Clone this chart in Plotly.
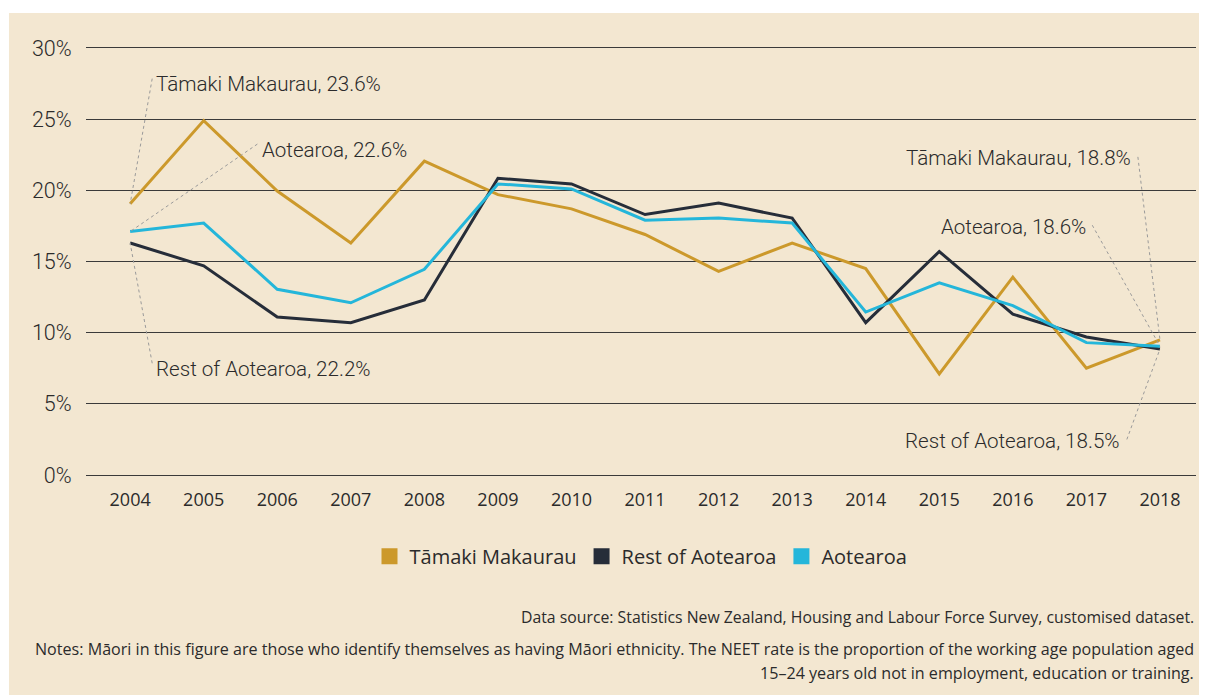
import plotly.graph_objects as go

years = list(range(2004, 2019))
tamaki = [19.05, 24.9, 19.95, 16.3, 22.05, 19.7, 18.7, 16.9, 14.3, 16.3, 14.5, 7.1, 13.9, 7.5, 9.5]
rest = [16.3, 14.7, 11.1, 10.7, 12.3, 20.85, 20.45, 18.3, 19.1, 18.05, 10.7, 15.7, 11.3, 9.7, 8.85]
aotearoa = [17.1, 17.7, 13.05, 12.1, 14.45, 20.45, 20.1, 17.9, 18.05, 17.7, 11.45, 13.5, 11.9, 9.3, 9.05]
y_ticks = [0, 5, 10, 15, 20, 25, 30]
y_tick_labels = ["0%", "5%", "10%", "15%", "20%", "25%", "30%"]

series = [
    ("Tāmaki Makaurau", tamaki, "#cc992b"),
    ("Rest of Aotearoa", rest, "#262d39"),
    ("Aotearoa", aotearoa, "#24b6da"),
]

BEIGE = "#f3e7d1"
TEXT = "#2b2b2b"
GRID = "#3a3a3a"
ANNOT_FONT = dict(family="Roboto", size=20.6, color=TEXT, weight=300)
NOTE_FONT = dict(family="Open Sans", size=15.8, color=TEXT)
LEADER = dict(color="#9a9a9a", width=1, dash="dot")

fig = go.Figure()

for name, values, color in series:
    fig.add_trace(
        go.Scatter(
            x=years,
            y=values,
            mode="lines",
            line=dict(color=color, width=3),
            showlegend=False,
            hoverinfo="skip",
        )
    )

# legend-only square swatches
for name, values, color in series:
    fig.add_trace(
        go.Scatter(
            x=[None],
            y=[None],
            mode="markers",
            name=name,
            marker=dict(symbol="square", size=16, color=color),
        )
    )

# leader labels: (text, series values, index, label x, label y, anchor)
labels = [
    ("Tāmaki Makaurau, 23.6%", tamaki, 0, 2004.33, 27.45, "left"),
    ("Aotearoa, 22.6%", aotearoa, 0, 2005.76, 22.85, "left"),
    ("Rest of Aotearoa, 22.2%", rest, 0, 2004.33, 7.45, "left"),
    ("Tāmaki Makaurau, 18.8%", tamaki, -1, 2017.64, 22.25, "right"),
    ("Aotearoa, 18.6%", aotearoa, -1, 2017.02, 17.45, "right"),
    ("Rest of Aotearoa, 18.5%", rest, -1, 2017.49, 2.4, "right"),
]
for text, values, idx, lx, ly, anchor in labels:
    fig.add_annotation(
        x=lx, y=ly, text=text, showarrow=False,
        xanchor=anchor, yanchor="middle", font=ANNOT_FONT,
    )
    sx = lx - 0.03 if anchor == "left" else lx + 0.06
    sy = ly + 0.4 if anchor == "left" else ly + 0.1
    fig.add_shape(
        type="line", xref="x", yref="y",
        x0=sx, y0=sy, x1=years[idx], y1=values[idx],
        line=LEADER, layer="above",
    )

# beige panel behind everything
fig.add_shape(
    type="rect", xref="paper", yref="paper",
    x0=-0.0694, x1=1.03, y0=-0.56, y1=1.082,
    fillcolor=BEIGE, line_width=0, layer="below",
)

fig.add_annotation(
    xref="paper", yref="paper", x=1.0, y=-0.3326,
    text="Data source: Statistics New Zealand, Housing and Labour Force Survey, customised dataset.",
    showarrow=False, xanchor="right", yanchor="middle", font=NOTE_FONT,
)
fig.add_annotation(
    xref="paper", yref="paper", x=1.0, y=-0.4075,
    text=(
        "Notes: Māori in this figure are those who identify themselves as having Māori ethnicity. "
        "The NEET rate is the proportion of the working age population aged"
    ),
    showarrow=False, xanchor="right", yanchor="middle",
    font=dict(NOTE_FONT, size=16.1),
)
fig.add_annotation(
    xref="paper", yref="paper", x=1.0, y=-0.464,
    text="15–24 years old not in employment, education or training.",
    showarrow=False, xanchor="right", yanchor="middle",
    font=dict(NOTE_FONT, size=16.1),
)

fig.update_xaxes(
    range=[2003.4, 2018.49],
    tickvals=years,
    ticks="outside", ticklen=8, tickcolor="rgba(0,0,0,0)",
    showgrid=False, zeroline=False,
    showline=True, mirror=True, linecolor=GRID, linewidth=1,
    tickfont=dict(family="Open Sans", size=18, color=TEXT),
    fixedrange=True,
)
fig.update_yaxes(
    range=[0, 30],
    tickvals=y_ticks,
    ticktext=y_tick_labels,
    ticks="outside", ticklen=9, tickcolor="rgba(0,0,0,0)",
    showgrid=True, gridcolor=GRID, gridwidth=1,
    zeroline=False, showline=False,
    tickfont=dict(family="Roboto", size=21.5, color=TEXT, weight=300),
    fixedrange=True,
)

# the page adds an 8px body margin, so the figure is sized to fit the window
fig.update_layout(
    width=1199,
    height=687,
    margin=dict(l=78, r=11, t=40, b=220),
    paper_bgcolor="white",
    plot_bgcolor="white",
    showlegend=True,
    legend=dict(
        orientation="h",
        x=0.5, xanchor="center",
        y=-0.19, yanchor="middle",
        font=dict(family="Open Sans", size=20, color=TEXT),
        bgcolor="rgba(0,0,0,0)",
        itemwidth=30,
        tracegroupgap=0,
    ),
)

fig.write_html("out.html")
